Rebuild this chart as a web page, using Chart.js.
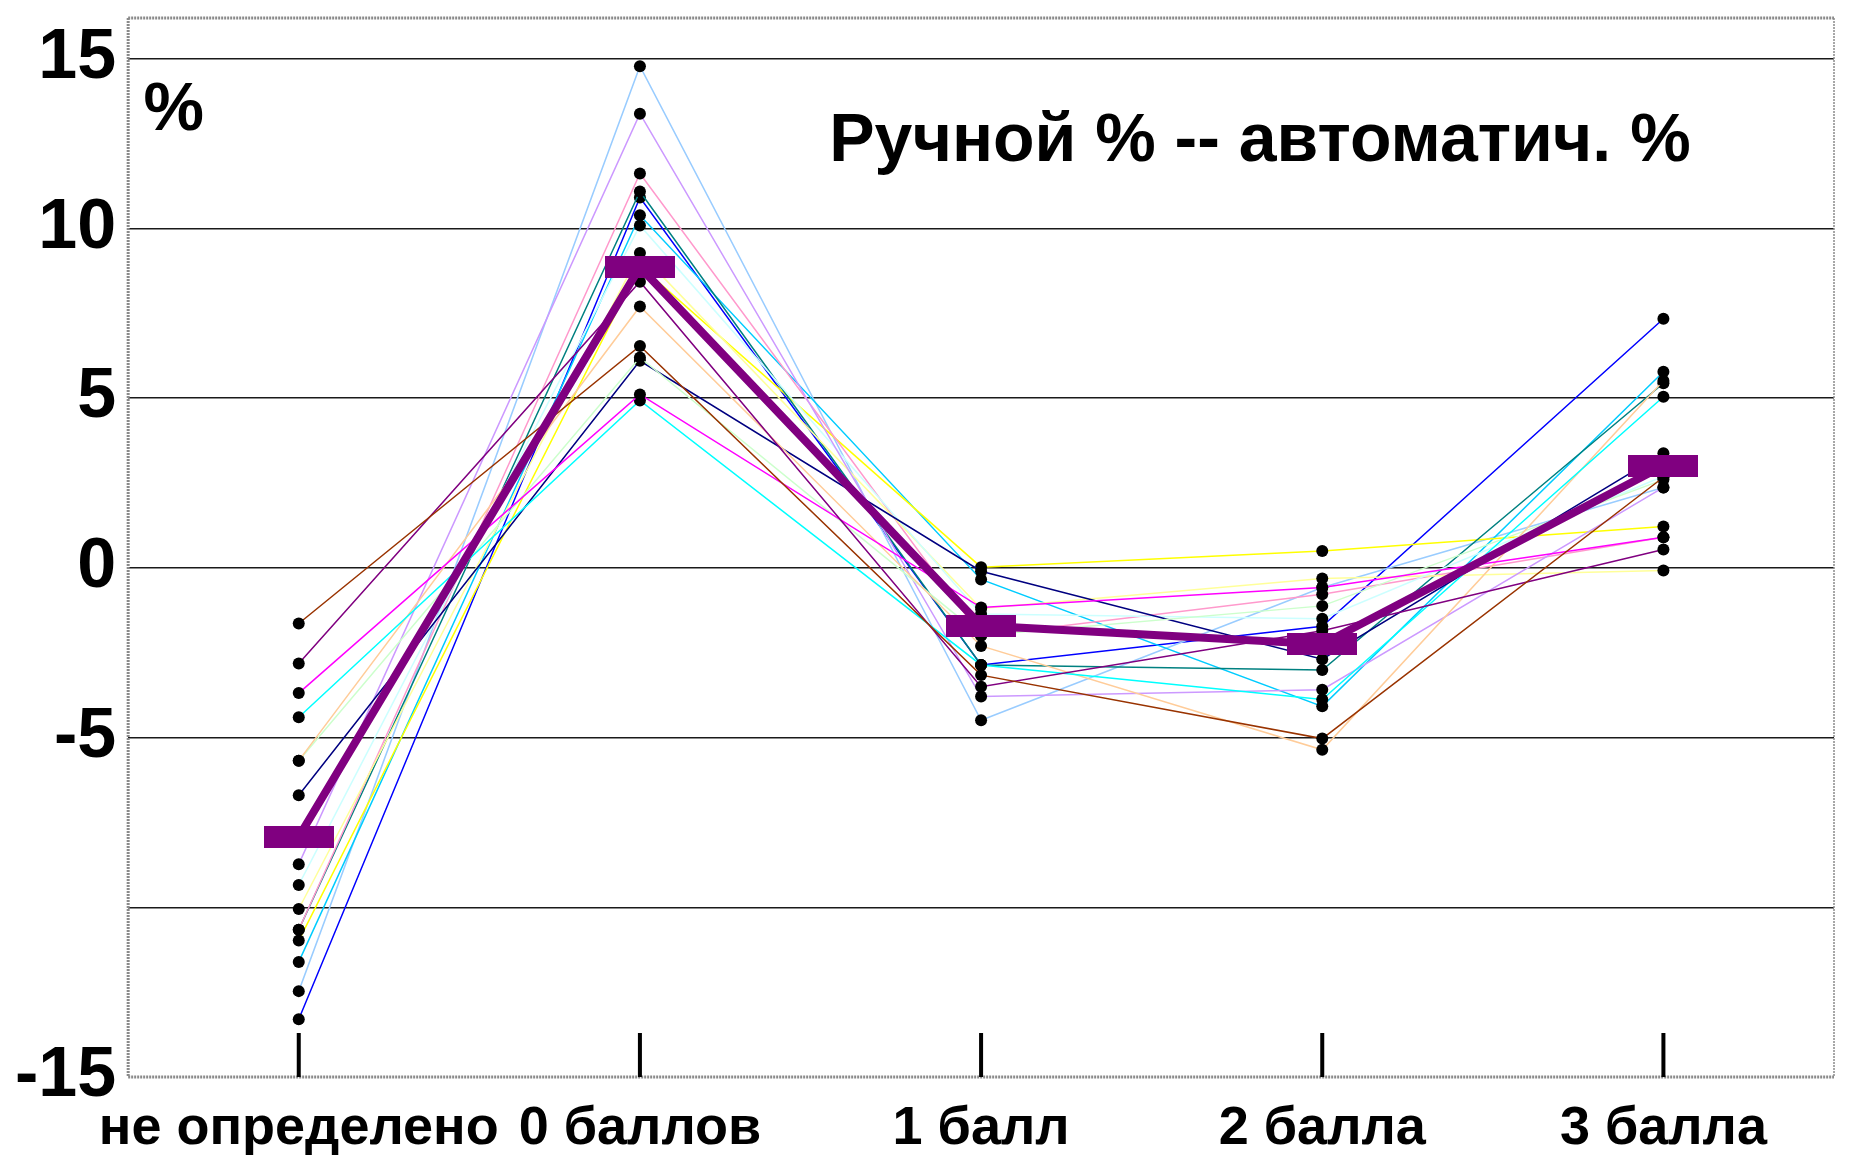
<!DOCTYPE html>
<html lang="ru">
<head>
<meta charset="utf-8">
<title>Ручной % -- автоматич. %</title>
<script src="https://cdn.jsdelivr.net/npm/chart.js@4.4.1/dist/chart.umd.min.js"></script>
<style>
  html, body { margin: 0; padding: 0; background: #fff; }
  #wrap { width: 1852px; height: 1156px; }
</style>
</head>
<body>
<div id="wrap"><canvas id="diffChart" width="1852" height="1156"></canvas></div>
<script>
// grades on the x axis
const categories = ['не определено', '0 баллов', '1 балл', '2 балла', '3 балла'];

// manual % minus automatic %, one row per sample
const s01 = [-1.64, 6.54, -3.16, -5.03, 2.67];
const s02 = [-2.82, 8.43, -3.50, -1.85, 0.54];
const s03 = [-3.69, 5.11, -1.17, -0.58, 0.90];
const s04 = [-4.40, 4.93, -2.86, -3.88, 5.04];
const s05 = [-5.68, 7.70, -2.30, -5.36, 5.51];
const s06 = [-5.68, 6.20, -1.99, -1.12, 2.60];
const s07 = [-6.70, 6.10, -0.10, -2.69, 3.38];
const s08 = [-8.73, 13.38, -3.79, -3.59, 2.37];
const s09 = [-9.34, 10.09, -1.36, -1.50, 2.70];
const s10 = [-10.05, 9.28, -1.20, -0.31, -0.08];
const s11 = [-10.66, 11.62, -2.00, -0.78, 0.90];
const s12 = [-10.66, 11.09, -2.86, -3.01, 5.44];
const s13 = [-10.98, 8.90, 0.02, 0.50, 1.22];
const s14 = [-11.61, 10.39, -0.34, -4.08, 5.78];
const s15 = [-12.47, 14.78, -4.49, -0.58, 2.37];
const s16 = [-13.30, 10.91, -2.86, -1.72, 7.34];

// average over all samples
const meanDiff = [-7.92, 8.86, -1.70, -2.25, 3.01];

const yTicks = [-15, -10, -5, 0, 5, 10, 15];
const yTickLabels = ['-15', '', '-5', '0', '5', '10', '15'];

const samples = [s01, s02, s03, s04, s05, s06, s07, s08, s09, s10, s11, s12, s13, s14, s15, s16];
const lineColors = ['#993300', '#800080', '#ff00ff', '#00ffff', '#ffcc99', '#ccffcc', '#000080', '#cc99ff',
                    '#ccffff', '#ffff99', '#ff99cc', '#008080', '#ffff00', '#00ccff', '#99ccff', '#0000ff'];

const FONT = '"Liberation Sans", Arial, sans-serif';

// wide bar used as the marker of the mean line
function meanMarker() {
  const c = document.createElement('canvas');
  c.width = 70;
  c.height = 22;
  const g = c.getContext('2d');
  g.fillStyle = '#800080';
  g.fillRect(0, 0, c.width, c.height);
  return c;
}

// dotted frame, short grade marks and the captions inside the plot
const chartDecor = {
  id: 'chartDecor',
  afterDraw(chart) {
    const { ctx, chartArea: a, scales: { x, y } } = chart;
    ctx.save();

    ctx.strokeStyle = '#8a8a8a';
    ctx.lineWidth = 3;
    ctx.setLineDash([2, 1]);
    ctx.beginPath();
    ctx.moveTo(a.left, a.top); ctx.lineTo(a.right, a.top);
    ctx.moveTo(a.left, a.top); ctx.lineTo(a.left, a.bottom);
    ctx.moveTo(a.left, a.bottom); ctx.lineTo(a.right, a.bottom);
    ctx.stroke();
    ctx.lineWidth = 1.5;
    ctx.beginPath();
    ctx.moveTo(a.right, a.top); ctx.lineTo(a.right, a.bottom);
    ctx.stroke();

    ctx.setLineDash([]);
    ctx.strokeStyle = '#000';
    ctx.lineWidth = 4;
    ctx.beginPath();
    x.ticks.forEach((t, i) => {
      const px = x.getPixelForTick(i);
      ctx.moveTo(px, a.bottom);
      ctx.lineTo(px, a.bottom - 44);
    });
    ctx.stroke();

    ctx.fillStyle = '#000';
    ctx.textBaseline = 'alphabetic';
    ctx.textAlign = 'left';
    ctx.font = 'bold 68px ' + FONT;
    ctx.fillText('%', a.left + a.width * 0.009, y.getPixelForValue(12.9));
    ctx.fillText('Ручной % -- автоматич. %', a.left + a.width * 0.411, y.getPixelForValue(12.0));
    ctx.restore();
  }
};

function initChart() {
  const datasets = [{
    label: 'среднее',
    data: meanDiff,
    borderColor: '#800080',
    borderWidth: 8,
    pointStyle: meanMarker(),
    pointRadius: 10,
    order: 0
  }];
  samples.forEach((vals, i) => {
    datasets.push({
      label: 's' + (i + 1),
      data: vals,
      borderColor: lineColors[i],
      borderWidth: 1.5,
      pointStyle: 'circle',
      pointRadius: 6,
      pointBorderWidth: 0,
      pointBackgroundColor: '#000',
      order: 1
    });
  });

  const ctx = document.getElementById('diffChart').getContext('2d');
  new Chart(ctx, {
    type: 'line',
    data: { labels: categories, datasets },
    plugins: [chartDecor],
    options: {
      responsive: false,
      animation: false,
      devicePixelRatio: 1,
      layout: { padding: { left: 3, top: 12, right: -10, bottom: 0 } },
      plugins: { legend: { display: false }, tooltip: { enabled: false } },
      elements: { line: { tension: 0 } },
      scales: {
        x: {
          offset: true,
          grid: { display: false, drawTicks: false },
          border: { display: false },
          afterFit: axis => { axis.height = 79; axis.paddingLeft = 0; axis.paddingRight = 0; },
          ticks: {
            autoSkip: false,
            maxRotation: 0,
            padding: 20,
            color: '#000',
            font: { family: FONT, weight: 'bold', size: 54 }
          }
        },
        y: {
          min: -15,
          max: 16.2,
          afterBuildTicks: axis => { axis.ticks = yTicks.map(v => ({ value: v })); },
          afterFit: axis => { axis.paddingTop = 0; axis.paddingBottom = 0; },
          grid: {
            drawTicks: false,
            lineWidth: 1.5,
            color: c => (c.tick && c.tick.value === -15) ? 'rgba(0,0,0,0)' : '#1a1a1a'
          },
          border: { display: false },
          ticks: {
            padding: 12,
            color: '#000',
            font: { family: FONT, weight: 'bold', size: 70 },
            callback: (v, i) => yTickLabels[i]
          }
        }
      }
    }
  });
}

window.addEventListener('DOMContentLoaded', initChart);
</script>
</body>
</html>
